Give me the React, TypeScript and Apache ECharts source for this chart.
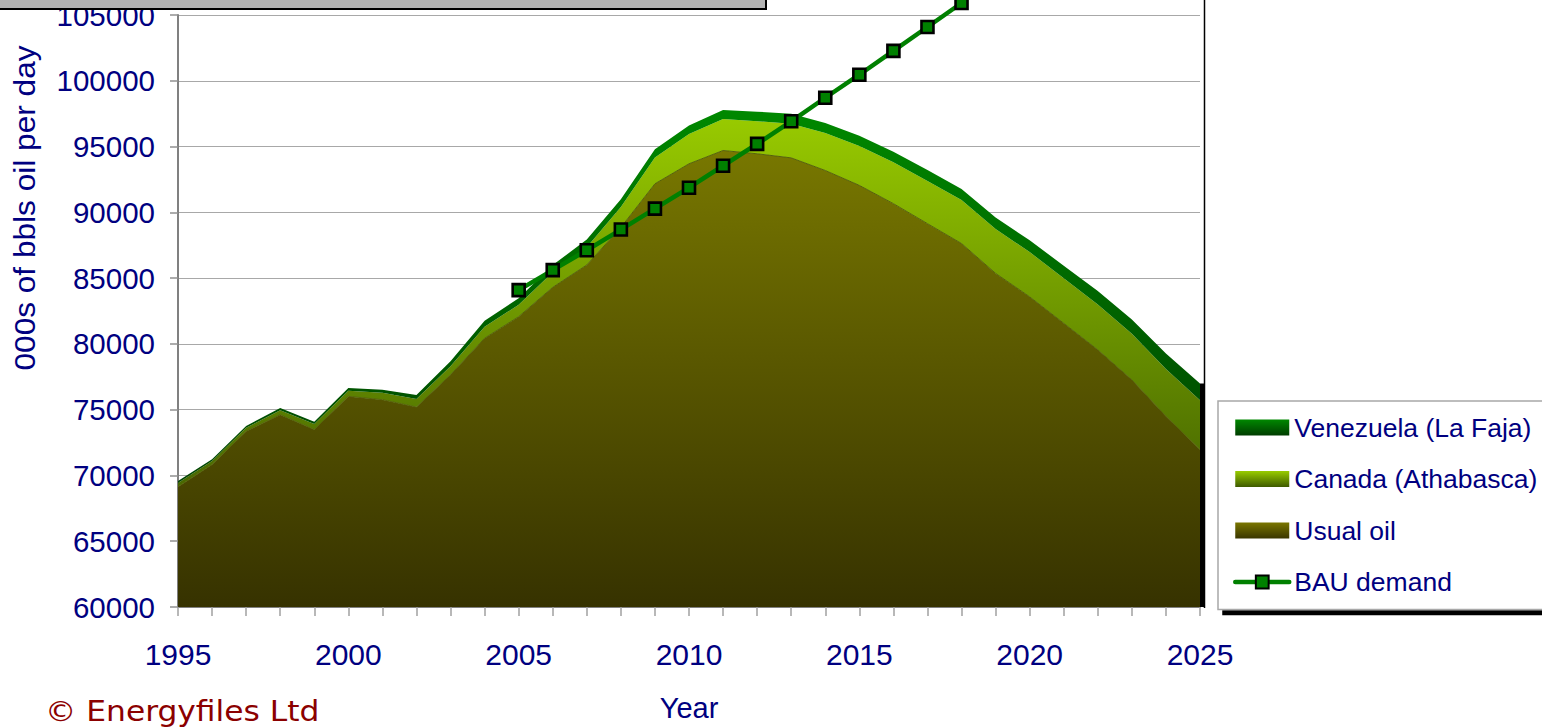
import React, { useEffect, useRef } from 'react';
import * as echarts from 'echarts';

const years = [
  1995, 1996, 1997, 1998, 1999, 2000, 2001, 2002, 2003, 2004,
  2005, 2006, 2007, 2008, 2009, 2010, 2011, 2012, 2013, 2014,
  2015, 2016, 2017, 2018, 2019, 2020, 2021, 2022, 2023, 2024, 2025,
];
const usualOil = [
  69140, 70830, 73360, 74620, 73490, 76010, 75760, 75200, 77650, 80430,
  82070, 84300, 86000, 88850, 92170, 93690, 94700, 94450, 94140, 93180,
  92050, 90660, 89140, 87630, 85360, 83580, 81570, 79550, 77270, 74500, 71970,
];
const canada = [
  290, 270, 260, 340, 420, 430, 520, 620, 650, 880,
  900, 1150, 1350, 1550, 2000, 2270, 2400, 2480, 2600, 2850,
  3000, 3150, 3250, 3300, 3380, 3400, 3420, 3450, 3500, 3600, 3750,
];
const venezuela = [
  140, 130, 140, 170, 170, 200, 230, 300, 380, 450,
  500, 540, 580, 600, 620, 640, 680, 720, 750, 760,
  780, 800, 820, 840, 860, 900, 950, 1020, 1080, 1160, 1260,
];
const bauYears = [2005, 2006, 2007, 2008, 2009, 2010, 2011, 2012, 2013, 2014, 2015, 2016, 2017, 2018];
const bauDemand = [84090, 85610, 87120, 88690, 90280, 91870, 93540, 95200, 96920, 98710, 100460, 102270, 104090, 105910];

const seriesNames = ['Venezuela (La Faja)', 'Canada (Athabasca)', 'Usual oil', 'BAU demand'];
const yMin = 60000;
const yMax = 105000;
const yStep = 5000;
const xLabelEvery = 5;

const FONT = '"Liberation Sans", Arial, Helvetica, sans-serif';
const NAVY = '#000080';

const globalGrad = (top: string, bottom: string) =>
  new echarts.graphic.LinearGradient(0, 100, 0, 608, [
    { offset: 0, color: top },
    { offset: 1, color: bottom },
  ], true);
const localGrad = (top: string, bottom: string) =>
  new echarts.graphic.LinearGradient(0, 0, 0, 1, [
    { offset: 0, color: top },
    { offset: 1, color: bottom },
  ]);

export default function App() {
  const ref = useRef<HTMLDivElement>(null);

  useEffect(() => {
    if (!ref.current) return;
    const chart = echarts.init(ref.current, undefined, { renderer: 'svg' });
    const lastIdx = years.length - 1;
    const lastTotal = usualOil[lastIdx] + canada[lastIdx] + venezuela[lastIdx];
    const bauData = years.map((y) => {
      const k = bauYears.indexOf(y);
      return k >= 0 ? bauDemand[k] : '-';
    });

    const option: any = {
      animation: false,
      backgroundColor: '#ffffff',
      grid: { left: 178, right: 342, top: 15, bottom: 119 },
      xAxis: {
        type: 'category',
        data: years.map(String),
        boundaryGap: false,
        axisLine: { lineStyle: { color: '#808080', width: 2 } },
        axisTick: { show: true, interval: 0, length: 9, lineStyle: { color: '#a0a0a0', width: 1.5 } },
        axisLabel: {
          interval: (i: number) => i % xLabelEvery === 0,
          color: NAVY,
          fontSize: 30,
          fontFamily: FONT,
          margin: 32,
        },
        splitLine: { show: false },
        name: 'Year',
        nameLocation: 'middle',
        nameGap: 86,
        nameTextStyle: { color: NAVY, fontSize: 29, fontFamily: FONT },
      },
      yAxis: {
        type: 'value',
        min: yMin,
        max: yMax,
        interval: yStep,
        axisLine: { show: true, lineStyle: { color: '#808080', width: 2 } },
        axisTick: { show: true, length: 8, lineStyle: { color: '#909090', width: 1.5 } },
        axisLabel: {
          color: NAVY,
          fontSize: 29.5,
          fontFamily: FONT,
          margin: 23,
          formatter: (v: number) => String(v),
        },
        splitLine: { lineStyle: { color: '#a8a8a8', width: 1.2 } },
      },
      legend: {
        orient: 'vertical',
        left: 1218,
        top: 401,
        padding: [13, 15, 14, 15],
        itemGap: 24.5,
        itemWidth: 54,
        itemHeight: 16,
        backgroundColor: '#ffffff',
        borderColor: '#a8a8a8',
        borderWidth: 1.5,
        shadowColor: '#000000',
        shadowOffsetX: 5,
        shadowOffsetY: 5,
        shadowBlur: 0,
        selectedMode: false,
        textStyle: { color: NAVY, fontSize: 26.5, fontFamily: FONT, lineHeight: 26 },
        data: [
          { name: seriesNames[0], icon: 'rect', itemStyle: { color: localGrad('#008800', '#003c00'), borderWidth: 0 } },
          { name: seriesNames[1], icon: 'rect', itemStyle: { color: localGrad('#99cc00', '#3e5a00'), borderWidth: 0 } },
          { name: seriesNames[2], icon: 'rect', itemStyle: { color: localGrad('#7a7600', '#3a3600'), borderWidth: 0 } },
          { name: seriesNames[3], lineStyle: { width: 4.5, cap: 'round', color: '#008000' } },
        ],
      },
      series: [
        {
          name: seriesNames[2],
          type: 'line',
          stack: 'oil',
          symbol: 'none',
          data: usualOil,
          z: 2,
          lineStyle: { width: 1, color: '#56620a' },
          itemStyle: { color: '#7a7600' },
          areaStyle: { color: globalGrad('#7f7f00', '#363200'), opacity: 1 },
        },
        {
          name: seriesNames[1],
          type: 'line',
          stack: 'oil',
          symbol: 'none',
          data: canada,
          z: 2,
          lineStyle: { width: 0, opacity: 0 },
          itemStyle: { color: '#99cc00' },
          areaStyle: { color: globalGrad('#9ccf00', '#2e4800'), opacity: 1 },
        },
        {
          name: seriesNames[0],
          type: 'line',
          stack: 'oil',
          symbol: 'none',
          data: venezuela,
          z: 2,
          lineStyle: { width: 0, opacity: 0 },
          itemStyle: { color: '#008000' },
          areaStyle: { color: globalGrad('#008a00', '#002c00'), opacity: 1 },
        },
        {
          name: seriesNames[3],
          type: 'line',
          data: bauData,
          z: 4,
          clip: false,
          symbol: 'rect',
          symbolSize: 12,
          lineStyle: { color: '#008000', width: 4.5, cap: 'round' },
          itemStyle: { color: '#008000', borderColor: '#000000', borderWidth: 2.6 },
        },
        {
          name: 'edge',
          type: 'custom',
          silent: true,
          clip: false,
          z: 3,
          data: [[lastIdx, lastTotal]],
          renderItem: (_params: any, api: any) => {
            const top = api.coord([api.value(0), api.value(1)]);
            const base = api.coord([api.value(0), yMin]);
            return {
              type: 'rect',
              shape: { x: top[0], y: top[1], width: 5, height: base[1] - top[1] },
              style: { fill: '#000000' },
            };
          },
        },
      ],
      graphic: [
        {
          type: 'line',
          z: 10,
          shape: { x1: 1204.5, y1: 0, x2: 1204.5, y2: 608 },
          style: { stroke: '#000000', lineWidth: 1.5 },
        },
        {
          type: 'rect',
          z: 20,
          shape: { x: -4, y: -30, width: 770, height: 39 },
          style: { fill: '#b3b3b3', stroke: '#000000', lineWidth: 2 },
        },
        {
          type: 'text',
          z: 10,
          x: 25,
          y: 208,
          rotation: Math.PI / 2,
          scaleX: 1.09,
          style: {
            text: '000s of bbls oil per day',
            font: '29px ' + FONT,
            fill: NAVY,
            align: 'center',
            verticalAlign: 'middle',
          },
        },
        {
          type: 'text',
          z: 10,
          x: 45,
          y: 711,
          scaleX: 1.08,
          style: {
            text: '© Energyfiles Ltd',
            font: '29px "DejaVu Sans", Verdana, sans-serif',
            fill: '#8b0000',
            align: 'left',
            verticalAlign: 'middle',
          },
        },
      ],
    };

    chart.setOption(option);
    return () => chart.dispose();
  }, []);

  return (
    <div
      ref={ref}
      style={{ position: 'fixed', left: 0, top: 0, width: 1542, height: 727, background: '#fff' }}
    />
  );
}
